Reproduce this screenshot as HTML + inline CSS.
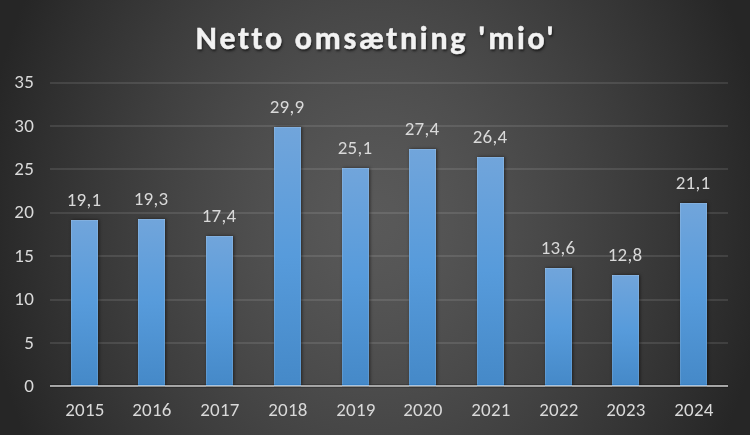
<!DOCTYPE html>
<html><head><meta charset="utf-8"><style>
html,body{margin:0;padding:0;}
.t,.l,.y{will-change:transform;}
body{width:750px;height:435px;overflow:hidden;position:relative;
background:radial-gradient(ellipse 395px 472px at 375px 217.5px, rgb(89.0,89.0,89.0) 0.0%, rgb(88.0,88.0,88.0) 5.0%, rgb(86.5,86.5,86.5) 10.0%, rgb(84.8,84.8,84.8) 15.0%, rgb(82.8,82.8,82.8) 20.0%, rgb(80.7,80.7,80.7) 25.0%, rgb(78.5,78.5,78.5) 30.0%, rgb(76.1,76.1,76.1) 35.0%, rgb(73.6,73.6,73.6) 40.0%, rgb(71.1,71.1,71.1) 45.0%, rgb(68.4,68.4,68.4) 50.0%, rgb(65.7,65.7,65.7) 55.0%, rgb(62.9,62.9,62.9) 60.0%, rgb(60.0,60.0,60.0) 65.0%, rgb(57.0,57.0,57.0) 70.0%, rgb(54.0,54.0,54.0) 75.0%, rgb(50.9,50.9,50.9) 80.0%, rgb(47.8,47.8,47.8) 85.0%, rgb(44.6,44.6,44.6) 90.0%, rgb(41.3,41.3,41.3) 95.0%, rgb(38.0,38.0,38.0) 100.0%);
font-family:"Carlito", "Liberation Sans", sans-serif;}
.t{position:absolute;left:1px;width:750px;top:22.7px;text-align:center;font-weight:bold;font-size:32px;letter-spacing:2.7px;color:#f2f2f2;line-height:1;white-space:nowrap;
text-shadow:1px 1.5px 2.5px rgba(0,0,0,0.65);-webkit-text-stroke:0.5px #f2f2f2;}
.g{position:absolute;left:50px;width:678px;height:2px;background:rgba(255,255,255,0.1);}
.ub{position:absolute;width:27px;top:384px;height:3px;background:linear-gradient(#3a82c5 0 1px,#a8c4e0 1px 2px,#8e8e8c 2px 3px);}
.ax{position:absolute;left:50px;width:678px;top:385px;height:2px;}
.b{position:absolute;width:27.0px;background:linear-gradient(#71a5db,#579bdb 50%,#4589c8);
box-shadow:1px 0 3px 0 rgba(8,4,0,0.55), inset 1px 0 0 rgba(255,255,255,0.12), inset -1px 0 0 rgba(255,255,255,0.12), inset 0 1px 0 rgba(255,255,255,0.12);}
.l{position:absolute;width:80px;text-align:center;font-size:19px;line-height:1;color:#d9d9d9;white-space:nowrap;letter-spacing:0.25px;}
.y{position:absolute;left:0;width:34.1px;text-align:right;font-size:19px;line-height:1;color:#d9d9d9;letter-spacing:0.25px;}
</style></head><body>
<div class="t">Netto omsætning 'mio'</div>
<div class="g" style="top:342px"></div>
<div class="g" style="top:299px"></div>
<div class="g" style="top:255px"></div>
<div class="g" style="top:212px"></div>
<div class="g" style="top:168px"></div>
<div class="g" style="top:125px"></div>
<div class="g" style="top:82px"></div>
<div class="y" style="top:376.2px">0</div>
<div class="y" style="top:333.2px">5</div>
<div class="y" style="top:289.2px">10</div>
<div class="y" style="top:246.2px">15</div>
<div class="y" style="top:202.2px">20</div>
<div class="y" style="top:159.2px">25</div>
<div class="y" style="top:116.2px">30</div>
<div class="y" style="top:72.2px">35</div>
<div class="b" style="left:71px;top:220px;height:165px"></div>
<div class="b" style="left:138px;top:219px;height:166px"></div>
<div class="b" style="left:206px;top:236px;height:149px"></div>
<div class="b" style="left:274px;top:127px;height:258px"></div>
<div class="b" style="left:342px;top:168px;height:217px"></div>
<div class="b" style="left:409px;top:149px;height:236px"></div>
<div class="b" style="left:477px;top:157px;height:228px"></div>
<div class="b" style="left:545px;top:268px;height:117px"></div>
<div class="b" style="left:612px;top:275px;height:110px"></div>
<div class="b" style="left:680px;top:203px;height:182px"></div>
<div class="ax" style="top:384px;height:4px;background:linear-gradient(rgba(0,0,0,0.22) 0 1px,#a9a9a9 1px 2px,#a2a2a2 2px 3px,rgba(0,0,0,0.22) 3px 4px)"></div>
<div class="ub" style="left:71px"></div>
<div class="ub" style="left:138px"></div>
<div class="ub" style="left:206px"></div>
<div class="ub" style="left:274px"></div>
<div class="ub" style="left:342px"></div>
<div class="ub" style="left:409px"></div>
<div class="ub" style="left:477px"></div>
<div class="ub" style="left:545px"></div>
<div class="ub" style="left:612px"></div>
<div class="ub" style="left:680px"></div>
<div class="l" style="left:43.70px;top:190.00px">19,1</div>
<div class="l" style="left:110.70px;top:189.00px">19,3</div>
<div class="l" style="left:178.70px;top:206.00px">17,4</div>
<div class="l" style="left:246.70px;top:97.00px">29,9</div>
<div class="l" style="left:314.70px;top:138.00px">25,1</div>
<div class="l" style="left:381.70px;top:119.00px">27,4</div>
<div class="l" style="left:449.70px;top:127.00px">26,4</div>
<div class="l" style="left:517.70px;top:238.00px">13,6</div>
<div class="l" style="left:584.70px;top:245.00px">12,8</div>
<div class="l" style="left:652.70px;top:173.00px">21,1</div>
<div class="l" style="left:44.90px;top:399.80px">2015</div>
<div class="l" style="left:111.90px;top:399.80px">2016</div>
<div class="l" style="left:179.90px;top:399.80px">2017</div>
<div class="l" style="left:247.90px;top:399.80px">2018</div>
<div class="l" style="left:315.90px;top:399.80px">2019</div>
<div class="l" style="left:382.90px;top:399.80px">2020</div>
<div class="l" style="left:450.90px;top:399.80px">2021</div>
<div class="l" style="left:518.90px;top:399.80px">2022</div>
<div class="l" style="left:585.90px;top:399.80px">2023</div>
<div class="l" style="left:653.90px;top:399.80px">2024</div>
</body></html>
